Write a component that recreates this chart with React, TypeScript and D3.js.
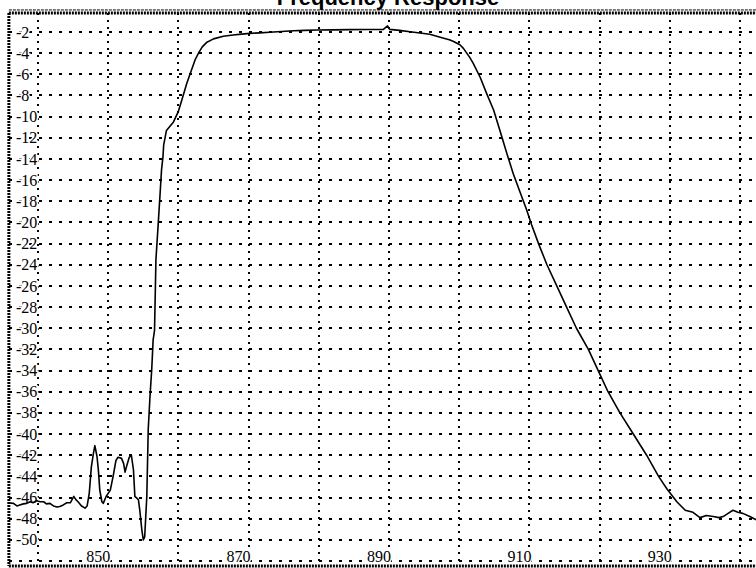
import React from "react";
import * as d3 from "d3";

const freqMHz = [
  835.7, 836.5, 837.0, 837.4, 837.9, 838.4, 838.9, 839.3, 839.8, 840.3, 840.8, 841.2, 841.7, 842.2,
  842.7, 843.1, 843.6, 844.1, 844.6, 845.1, 845.4, 845.7, 846.2, 846.7, 847.0, 847.3, 847.6, 847.9,
  848.1, 848.4, 848.6, 848.8, 849.1, 849.3, 849.7, 850.3, 850.7, 851.1, 851.4, 851.9, 852.2, 852.4,
  852.6, 853.0, 853.3, 853.6, 853.8, 854.3, 854.5, 854.8, 855.0, 855.2, 855.5, 855.7, 855.95, 856.2,
  856.4, 856.6, 856.8, 857.1, 857.4, 857.6, 857.8, 857.9, 858.3, 858.8, 859.3, 860.0, 860.5, 861.2,
  861.7, 862.4, 862.9, 863.4, 864.0, 865.0, 866.4, 867.8, 869.0, 870.2, 871.6, 873.0, 874.7, 876.4,
  878.0, 879.7, 882.0, 884.4, 886.8, 889.2, 889.8, 890.1, 891.5, 893.0, 894.4, 895.8, 897.3, 898.7,
  899.2, 900.1, 900.6, 901.5, 902.0, 903.0, 903.9, 904.9, 905.8, 906.8, 907.7, 908.7, 909.6, 910.3,
  911.3, 912.5, 913.9, 915.3, 916.7, 918.4, 919.8, 921.2, 922.9, 924.8, 926.7, 928.4, 929.6, 931.0,
  932.2, 933.3, 934.3, 935.2, 936.2, 937.0, 937.6, 938.3, 939.0, 939.7, 940.4, 941.4, 942.3,
];

const gainDb = [
  -46.5, -46.55, -46.8, -46.7, -46.6, -46.55, -46.4, -46.5, -46.3, -46.4, -46.4, -46.6, -46.55, -46.8,
  -46.9, -46.85, -46.7, -46.5, -46.5, -45.9, -46.2, -46.4, -46.8, -47.0, -46.8, -45.6, -43.1, -41.8,
  -41.1, -42.1, -43.4, -45.3, -46.4, -46.55, -45.9, -45.3, -44.0, -42.5, -42.2, -42.3, -42.8, -43.6,
  -43.1, -42.2, -42.0, -43.4, -45.9, -46.2, -47.2, -49.1, -50.0, -49.7, -45.9, -39.6, -36.5, -33.9,
  -31.1, -30.2, -23.5, -20.4, -17.2, -15.0, -13.8, -12.7, -11.3, -10.9, -10.5, -9.5, -8.4, -6.85,
  -5.9, -4.6, -3.95, -3.4, -3.0, -2.65, -2.4, -2.28, -2.2, -2.13, -2.08, -2.03, -1.95, -1.88,
  -1.85, -1.81, -1.8, -1.78, -1.77, -1.75, -1.43, -1.75, -1.85, -1.97, -2.1, -2.22, -2.5, -2.76,
  -2.9, -3.2, -3.55, -4.4, -4.96, -6.3, -7.8, -9.37, -11.3, -13.5, -15.4, -17.2, -18.8, -20.2,
  -22.0, -24.0, -26.0, -28.0, -30.0, -32.0, -34.0, -36.0, -38.0, -40.0, -42.0, -44.0, -45.2, -46.4,
  -47.2, -47.4, -47.9, -47.7, -47.8, -47.9, -47.8, -47.5, -47.2, -47.4, -47.5, -47.8, -48.1,
];

const xGridTicks = [840, 850, 860, 870, 880, 890, 900, 910, 920, 930, 940];
const xLabelTicks = [850, 870, 890, 910, 930];
const yGridTicks = d3.range(-2, -53, -2);
const yLabelTicks = d3.range(-2, -51, -2);

const W = 756;
const H = 568;

export default function App() {
  const x = d3.scaleLinear().domain([840, 940]).range([38, 740]);
  const y = d3.scaleLinear().domain([-2, -52]).range([32, 561]);

  const left = x(835.85);
  const top = y(-0.2);
  const bottom = y(-52.47);

  const line = d3
    .line<number>()
    .x((_, i) => x(freqMHz[i]))
    .y((d) => y(d));

  const labelFont = "Liberation Serif, Times New Roman, serif";

  return (
    <svg
      width={W}
      height={H}
      style={{ position: "fixed", left: 0, top: 0, background: "#fff" }}
    >
      <text
        x={388}
        y={5}
        textAnchor="middle"
        fontFamily="Liberation Sans, Arial, sans-serif"
        fontWeight="bold"
        fontSize={22}
      >
        Frequency Response
      </text>

      {/* horizontal grid */}
      {yGridTicks.map((t) => (
        <line
          key={"h" + t}
          x1={left}
          x2={W}
          y1={Math.round(y(t))}
          y2={Math.round(y(t))}
          stroke="#000"
          strokeWidth={2}
          strokeDasharray="3,7"
          shapeRendering="crispEdges"
        />
      ))}
      {/* vertical grid */}
      {xGridTicks.map((t) => (
        <line
          key={"v" + t}
          x1={Math.round(x(t))}
          x2={Math.round(x(t))}
          y1={top}
          y2={bottom}
          stroke="#000"
          strokeWidth={2}
          strokeDasharray="2,5"
          shapeRendering="crispEdges"
        />
      ))}

      {/* frame */}
      <line x1={left} x2={W} y1={top - 3} y2={top - 3} stroke="#000" strokeWidth={1} strokeDasharray="3,1" />
      <line x1={left} x2={W} y1={top} y2={top} stroke="#000" strokeWidth={3} strokeDasharray="2,1" />
      <line x1={left} x2={W} y1={bottom} y2={bottom} stroke="#000" strokeWidth={3} strokeDasharray="2,1" />
      <line x1={left} x2={left} y1={top} y2={bottom} stroke="#000" strokeWidth={3} strokeDasharray="2,1" />

      {/* y labels */}
      {yLabelTicks.map((t) => (
        <text
          key={"yl" + t}
          x={16}
          y={y(t)}
          dy="0.35em"
          fontFamily={labelFont}
          fontSize={16}
          stroke="#fff"
          strokeWidth={3}
          paintOrder="stroke"
          fill="#000"
        >
          {t}
        </text>
      ))}

      {/* x labels */}
      {xLabelTicks.map((t) => (
        <text
          key={"xl" + t}
          x={x(t) + 2}
          y={562}
          textAnchor="end"
          fontFamily={labelFont}
          fontSize={16}
          stroke="#fff"
          strokeWidth={3}
          paintOrder="stroke"
          fill="#000"
        >
          {t}
        </text>
      ))}

      <path d={line(gainDb) ?? ""} fill="none" stroke="#000" strokeWidth={1.6} strokeLinejoin="round" />
    </svg>
  );
}
